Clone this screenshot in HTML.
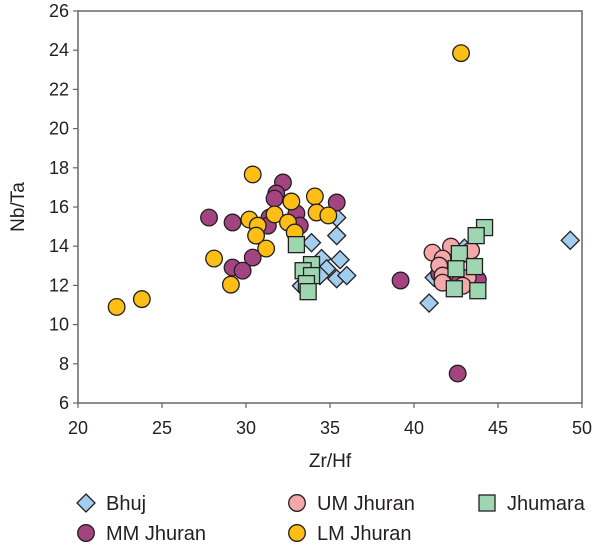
<!DOCTYPE html>
<html><head><meta charset="utf-8"><style>
body{margin:0;background:#fff;width:600px;height:548px;overflow:hidden;font-family:"Liberation Sans",sans-serif}
svg text{font-family:"Liberation Sans",sans-serif;fill:#231f20}
</style></head><body>
<svg id="chart" width="600" height="548" xmlns="http://www.w3.org/2000/svg"></svg>
<script>
const xTicks=[20,25,30,35,40,45,50];
const yTicks=[6,8,10,12,14,16,18,20,22,24,26];
const bhujX=[35.4,33.9,35.4,34.5,35.6,34.8,35.4,36.0,34.4,33.3,40.9,41.2,43.0,49.3];
const bhujY=[15.46,14.18,14.54,13.37,13.31,12.85,12.34,12.5,12.5,11.98,11.1,12.4,13.9,14.3];
const umX=[41.1,42.2,41.7,41.5,41.7,41.7,43.0,43.2,43.4,42.9];
const umY=[13.67,13.98,13.37,13.01,12.5,12.14,13.62,12.39,13.78,11.98];
const mmX=[32.2,31.8,31.7,35.4,27.8,29.2,33.0,31.4,33.2,31.3,30.4,29.2,29.8,39.2,42.6,41.5,42.7,43.8];
const mmY=[17.25,16.69,16.43,16.23,15.46,15.21,15.67,15.46,15.05,15.05,13.42,12.91,12.75,12.25,7.5,12.6,12.14,12.3];
const lmX=[30.4,34.1,32.7,34.2,34.9,31.7,30.2,32.5,30.7,32.9,30.6,31.2,28.1,29.1,22.3,23.8,42.8];
const lmY=[17.66,16.54,16.28,15.72,15.57,15.62,15.36,15.21,15.05,14.70,14.54,13.88,13.37,12.04,10.9,11.3,23.85];
const jhX=[33.0,33.9,33.4,33.9,33.6,33.7,44.2,43.7,42.7,42.5,43.6,42.4,43.8];
const jhY=[14.08,13.06,12.75,12.5,12.09,11.68,14.95,14.54,13.62,12.85,12.96,11.83,11.73];

const NS='http://www.w3.org/2000/svg';
const svg=document.getElementById('chart');
const L=78,R=582,T=11,B=403;
const xs=v=>L+(v-20)*(R-L)/30;
const ys=v=>B-(v-6)*(B-T)/20;
function mk(tag,attrs,parent){const e=document.createElementNS(NS,tag);for(const k in attrs)e.setAttribute(k,attrs[k]);(parent||svg).appendChild(e);return e;}

const frame=mk('rect',{x:L,y:T,width:R-L,height:B-T,fill:'none',stroke:'#666',"stroke-width":1.5});


xTicks.forEach(t=>{
  const l=mk('line',{x1:xs(t),x2:xs(t),y1:B,y2:B+5,stroke:'#666',"stroke-width":1.2});
  
  
  const tx=mk('text',{x:xs(t),y:B+31,"font-size":18,"text-anchor":"middle"});tx.textContent=t;
  
  
});
yTicks.forEach(t=>{
  const l=mk('line',{x1:L-5,x2:L,y1:ys(t),y2:ys(t),stroke:'#666',"stroke-width":1.2});
  
  
  const tx=mk('text',{x:L-9,y:ys(t)+6,"font-size":18,"text-anchor":"end"});tx.textContent=t;
  
  
});
const xt=mk('text',{x:330,y:467,"font-size":19,"text-anchor":"middle"});xt.textContent='Zr/Hf';


const yt=mk('text',{x:0,y:0,"font-size":19,"text-anchor":"middle",transform:'translate(24,207) rotate(-90)'});yt.textContent='Nb/Ta';



function marker(kind,cx,cy,fill,parent){
  const st={fill:fill,stroke:'#231f20',"stroke-width":1.3};
  if(kind==='circle') return mk('circle',Object.assign({cx:cx,cy:cy,r:8.3},st),parent);
  if(kind==='diamond') return mk('polygon',Object.assign({points:`${cx},${cy-9} ${cx+9},${cy} ${cx},${cy+9} ${cx-9},${cy}`},st),parent);
  return mk('rect',Object.assign({x:cx-8,y:cy-8,width:16,height:16},st),parent);
}
const series=[
  {n:'bhuj',xs:bhujX,ys:bhujY,k:'diamond',c:'#a3cdee'},
  {n:'mm-jhuran',xs:mmX,ys:mmY,k:'circle',c:'#a2447f'},
  {n:'lm-jhuran',xs:lmX,ys:lmY,k:'circle',c:'#fdbe16'},
  {n:'um-jhuran',xs:umX,ys:umY,k:'circle',c:'#f5a7a9'},
  {n:'jhumara',xs:jhX,ys:jhY,k:'square',c:'#9fd6b2'}
];
series.forEach(s=>{
  const g=mk('g',{});
  
  
  s.xs.forEach((v,i)=>{
    const m=marker(s.k,xs(v),ys(s.ys[i]),s.c,g);
    
    
  });
});
const legend=[
  {t:'Bhuj',k:'diamond',c:'#a3cdee',x:86,y:503},
  {t:'UM Jhuran',k:'circle',c:'#f5a7a9',x:297,y:503},
  {t:'Jhumara',k:'square',c:'#9fd6b2',x:487,y:503},
  {t:'MM Jhuran',k:'circle',c:'#a2447f',x:86,y:533},
  {t:'LM Jhuran',k:'circle',c:'#fdbe16',x:297,y:533}
];
legend.forEach(l=>{
  const g=mk('g',{});
  
  
  marker(l.k,l.x,l.y,l.c,g);
  const t=mk('text',{x:l.x+20,y:l.y+7,"font-size":20},g);t.textContent=l.t;
});
</script>
</body></html>
